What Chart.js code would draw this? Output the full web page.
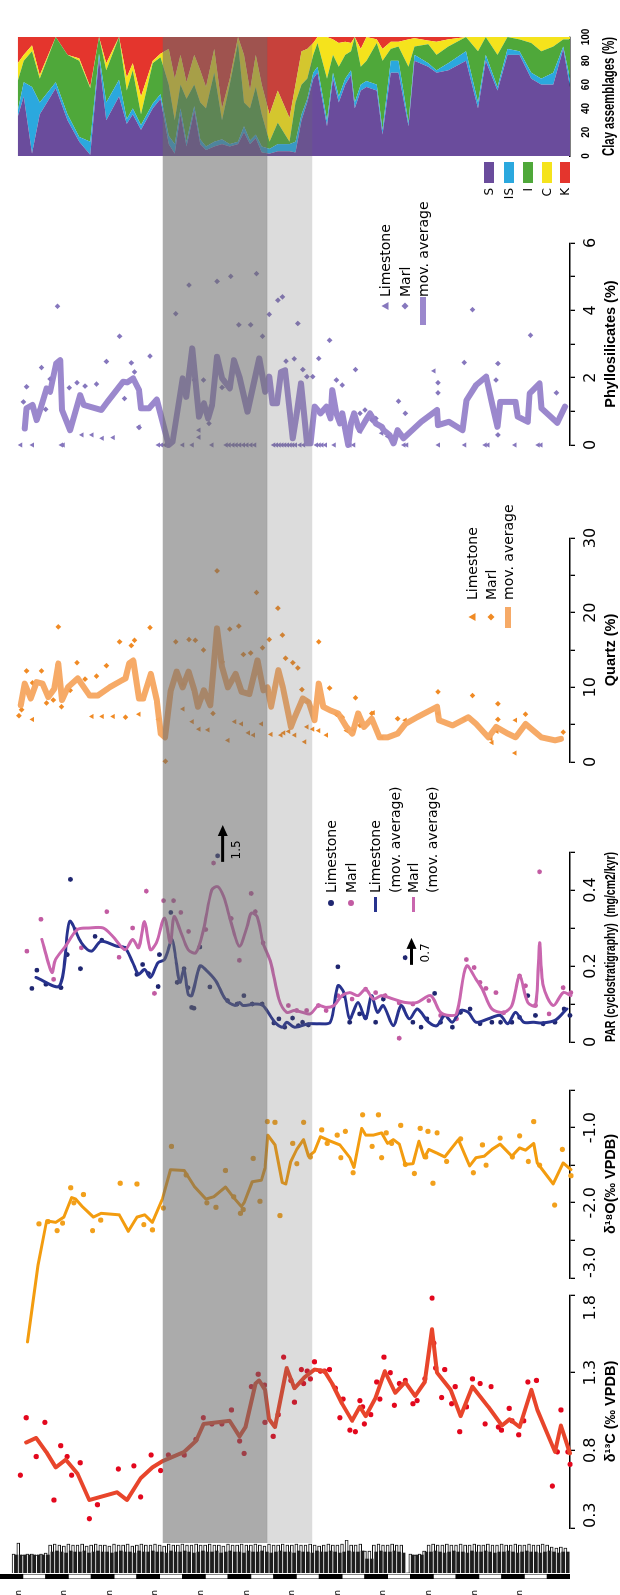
<!DOCTYPE html>
<html><head><meta charset="utf-8">
<script src="https://cdn.jsdelivr.net/npm/chart.js"></script>
<style>
html,body{margin:0;padding:0;width:620px;height:1595px;overflow:hidden;background:#fff;}
#stage{position:absolute;left:0;top:0;width:1595px;height:620px;transform-origin:0 0;transform:translateY(1595px) rotate(-90deg);}
#stage canvas{position:absolute;left:0;top:0;}
.lg{position:absolute;font-family:"DejaVu Sans";font-size:14px;color:#000;white-space:nowrap;line-height:16px;transform:translateY(-50%);}
.mk{position:absolute;}
</style></head><body><div id="stage"></div>
<script>
// ---------------- DATA (depth in m, values in axis units) ----------------
const DEPTH_MIN = -4, DEPTH_MAX = 121;
const depthLabelValues = [0,10,20,30,40,50,60,70,80,90,100,110];
const scaleBarBounds = [-4,1,6,11,16,21,26,31,36,41,46,51,56,61,66,71,76,81,86,91,96,101,106,111,116,121];
const bandDark = [31.75, 54.56];
const bandLight = [54.56, 64.4];

const d13cTicks = [0.3,0.8,1.3,1.8];
const d18oTicks = [-3,-2.5,-2,-1.5,-1,-0.5];
const d18oTickLabels = ['-3.0','','-2.0','','-1.0',''];
const parTicks = [0,0.1,0.2,0.3,0.4,0.5];
const parTickLabels = ['0','','0.2','','0.4',''];
const quartzTicks = [0,5,10,15,20,25,30];
const quartzTickLabels = ['0','','10','','20','','30'];
const phylloTicks = [0,1,2,3,4,5,6];
const phylloTickLabels = ['0','','2','','4','','6'];
const clayTicks = [0,20,40,60,80,100];

const d13cPoints = [[-0.1,0.64],[1.2,1.01],[3.4,0.76],[5.3,0.98],[7.3,0.48],[8.8,0.83],[10.2,0.76],[11.2,0.64],[13.1,0.72],[15.1,0.36],[16.9,0.45],[21.5,0.68],[23.4,0.27],[24.9,0.70],[26.4,0.50],[28.7,0.77],[30.8,0.67],[32.5,0.77],[36.0,0.77],[38.6,0.87],[40.2,1.01],[42.1,0.97],[44.3,0.97],[46.4,1.06],[48.2,0.86],[49.2,0.78],[50.8,1.21],[52.3,1.29],[53.7,1.22],[53.8,0.98],[55.6,0.89],[56.7,1.03],[57.9,1.40],[59.5,1.25],[60.3,1.11],[61.8,1.32],[62.3,1.23],[63.1,1.31],[63.8,1.26],[64.7,1.37],[66.0,1.31],[66.9,1.31],[68.0,1.32],[69.3,1.20],[70.3,1.01],[71.0,1.13],[72.5,0.93],[73.7,0.92],[74.7,1.12],[75.3,1.08],[75.7,0.97],[77.1,1.03],[78.4,1.24],[79.1,1.13],[80.0,1.40],[81.4,1.30],[82.3,1.09],[83.4,1.23],[84.7,1.25],[86.4,1.10],[87.3,1.12],[89.0,1.26],[90.6,1.78],[91.0,1.49],[91.4,1.33],[92.7,1.14],[93.4,1.32],[94.9,1.10],[95.7,1.21],[96.7,0.92],[98.2,1.08],[99.5,1.26],[101.2,1.23],[102.3,0.97],[103.6,1.21],[105.2,0.95],[105.9,0.93],[107.6,1.07],[108.2,0.99],[109.7,0.90],[110.8,0.99],[111.7,1.24],[113.6,1.25],[117.1,0.57],[118.2,0.79],[119.0,1.06],[120.5,0.79],[121.0,0.71]];
const d13cAvg = [[1.2,0.85],[3.4,0.88],[5.6,0.79],[7.7,0.69],[9.9,0.74],[12.5,0.65],[15.1,0.48],[21.2,0.53],[23.4,0.48],[26.4,0.62],[29.0,0.69],[31.2,0.73],[36.0,0.79],[38.6,0.86],[40.3,0.97],[46.0,0.99],[48.2,0.89],[49.5,0.95],[51.7,1.23],[52.5,1.25],[53.8,1.19],[54.7,1.0],[56.0,0.95],[58.6,1.33],[60.3,1.20],[62.5,1.27],[64.7,1.32],[66.9,1.31],[68.6,1.23],[70.8,1.10],[73.0,0.99],[74.7,1.08],[76.0,1.02],[78.2,1.14],[80.2,1.31],[82.5,1.17],[84.7,1.24],[86.9,1.15],[89.0,1.24],[90.6,1.58],[91.7,1.30],[94.7,1.19],[96.9,1.02],[99.5,1.21],[103.0,1.08],[106.0,0.96],[107.7,1.0],[109.9,0.95],[112.5,1.19],[113.8,1.06],[117.7,0.79],[119.0,0.96],[121.0,0.78]];

const d18oPoints = [[0.5,-3.99],[1.9,-4.53],[4.0,-2.28],[6.0,-2.25],[8.0,-2.37],[9.2,-2.27],[11.0,-1.80],[11.7,-2.0],[13.8,-1.89],[15.8,-2.37],[17.6,-2.23],[21.9,-1.74],[23.7,-3.04],[25.6,-1.75],[27.1,-2.29],[29.0,-2.36],[31.4,-2.07],[33.2,-1.25],[36.4,-1.63],[41.0,-2.0],[43.0,-2.06],[45.1,-1.57],[46.9,-1.92],[48.4,-2.14],[49.0,-2.09],[51.2,-1.41],[52.7,-1.98],[54.3,-0.92],[56.0,-0.93],[57.1,-2.17],[59.9,-1.21],[60.8,-1.48],[62.3,-0.93],[63.8,-1.39],[66.3,-1.03],[67.5,-1.21],[69.7,-1.10],[70.5,-1.40],[71.5,-1.05],[73.2,-1.60],[75.3,-0.83],[77.4,-1.25],[78.8,-0.83],[79.5,-1.40],[80.5,-1.07],[81.7,-1.21],[83.7,-0.97],[84.7,-1.49],[86.7,-1.61],[88.0,-1.01],[89.2,-1.39],[89.7,-1.05],[90.8,-1.74],[91.7,-1.07],[93.8,-1.45],[96.9,-1.15],[99.7,-1.60],[101.7,-1.23],[102.5,-1.50],[105.6,-1.14],[108.3,-1.39],[109.9,-1.11],[111.8,-1.45],[113.0,-0.92],[114.3,-1.50],[117.6,-2.03],[119.3,-1.29],[121.2,-1.64]];
const d18oAvg = [[1.5,-3.85],[3.8,-2.83],[5.7,-2.24],[7.7,-2.26],[9.5,-2.19],[11.2,-1.93],[12.1,-1.95],[13.4,-2.04],[16.0,-2.19],[17.7,-2.14],[21.7,-2.16],[23.7,-2.38],[25.6,-2.19],[27.3,-2.16],[29.0,-2.26],[31.2,-1.95],[33.0,-1.56],[36.0,-1.57],[38.2,-1.78],[40.8,-1.95],[42.5,-1.92],[45.1,-1.79],[46.9,-1.93],[48.6,-2.05],[49.2,-2.0],[51.0,-1.72],[53.0,-1.70],[53.8,-1.54],[54.4,-1.10],[56.0,-1.23],[57.6,-1.73],[58.4,-1.75],[59.5,-1.45],[60.8,-1.29],[62.3,-1.16],[63.4,-1.38],[64.7,-1.32],[66.0,-1.12],[68.2,-1.18],[70.3,-1.23],[72.5,-1.40],[73.4,-1.53],[75.1,-1.01],[76.0,-1.10],[77.7,-1.10],[79.5,-1.07],[80.8,-1.21],[82.1,-1.16],[83.4,-1.22],[84.7,-1.49],[86.4,-1.48],[87.7,-1.18],[88.9,-1.40],[89.9,-1.29],[91.7,-1.34],[93.4,-1.39],[96.4,-1.16],[98.9,-1.51],[100.3,-1.40],[102.1,-1.38],[103.8,-1.29],[105.6,-1.22],[108.2,-1.38],[109.9,-1.27],[111.2,-1.30],[113.0,-1.21],[113.8,-1.47],[117.3,-1.75],[119.5,-1.47],[121.2,-1.56]];

const parLimestone = [[2.5,0.141],[3.6,0.189],[5.6,0.152],[8.9,0.143],[10.3,0.230],[11.0,0.428],[13.2,0.193],[16.4,0.278],[17.9,0.268],[23.1,0.246],[25.6,0.178],[26.9,0.204],[28.2,0.180],[30.3,0.146],[30.6,0.230],[33.1,0.341],[34.5,0.157],[36.0,0.193],[36.9,0.143],[37.7,0.091],[38.2,0.089],[39.5,0.250],[41.7,0.145],[43.4,0.49],[45.6,0.109],[47.7,0.1],[49.2,0.122],[51.0,0.1],[53.2,0.1],[55.8,0.050],[56.9,0.061],[58.2,0.039],[59.9,0.063],[61.2,0.043],[62.1,0.052],[63.4,0.045],[69.9,0.198],[71.2,0.122],[72.5,0.052],[74.7,0.074],[76.0,0.065],[78.2,0.052],[79.9,0.113],[84.7,0.222],[86.4,0.052],[88.2,0.039],[89.5,0.061],[91.2,0.128],[92.5,0.052],[95.1,0.039],[96.9,0.078],[99.0,0.087],[101.2,0.048],[103.8,0.052],[105.7,0.052],[108.2,0.052],[109.9,0.065],[111.7,0.122],[113.4,0.070],[115.1,0.048],[117.7,0.052],[119.7,0.087],[121.0,0.070]];
const parMarl = [[1.4,0.239],[4.5,0.323],[7.3,0.165],[12.1,0.296],[13.4,0.248],[19.0,0.343],[21.7,0.223],[24.7,0.3],[27.7,0.397],[29.5,0.128],[31.5,0.372],[33.7,0.372],[35.3,0.341],[37.0,0.291],[40.8,0.296],[42.5,0.471],[46.4,0.325],[48.2,0.215],[50.8,0.391],[51.7,0.343],[53.4,0.261],[59.0,0.096],[60.8,0.083],[63.0,0.083],[65.6,0.096],[67.3,0.083],[69.9,0.122],[73.0,0.113],[76.0,0.139],[78.2,0.130],[80.3,0.122],[83.4,0.103],[83.4,0.01],[86.4,0.1],[89.9,0.109],[92.5,0.070],[96.0,0.061],[98.2,0.217],[99.9,0.196],[101.2,0.157],[102.5,0.141],[104.7,0.130],[106.4,0.077],[109.9,0.174],[111.2,0.148],[113.4,0.096],[114.3,0.448],[116.4,0.074],[119.5,0.143],[121.2,0.130]];
const parLimestoneAvg = [[3.4,0.170],[8.6,0.148],[10.8,0.317],[13.4,0.261],[15.6,0.239],[17.7,0.265],[21.2,0.252],[23.0,0.248],[24.7,0.209],[26.0,0.178],[27.3,0.191],[28.6,0.170],[30.3,0.209],[31.7,0.217],[33.4,0.270],[34.3,0.209],[35.1,0.157],[36.0,0.191],[36.9,0.126],[37.7,0.122],[39.5,0.200],[40.8,0.190],[43.0,0.161],[45.1,0.113],[47.3,0.096],[48.2,0.104],[49.0,0.096],[51.7,0.1],[53.4,0.096],[56.0,0.052],[57.7,0.039],[58.6,0.052],[60.3,0.039],[63.4,0.048],[65.6,0.048],[68.2,0.052],[69.9,0.148],[71.2,0.130],[72.5,0.061],[74.3,0.104],[76.0,0.061],[77.3,0.122],[78.6,0.078],[79.9,0.096],[82.1,0.043],[83.8,0.096],[85.6,0.061],[87.3,0.087],[88.2,0.078],[89.9,0.052],[91.7,0.043],[93.4,0.070],[95.1,0.052],[96.9,0.083],[98.6,0.078],[100.3,0.052],[103.0,0.061],[105.6,0.070],[107.3,0.048],[109.0,0.078],[110.8,0.052],[113.0,0.052],[114.7,0.050],[117.7,0.057],[120.3,0.087]];
const parMarlAvg = [[4.7,0.270],[6.9,0.183],[7.7,0.217],[9.9,0.252],[12.5,0.296],[15.1,0.3],[18.2,0.3],[20.3,0.278],[23.0,0.243],[24.7,0.270],[26.0,0.248],[27.3,0.317],[28.6,0.243],[29.9,0.261],[31.7,0.326],[33.0,0.261],[33.8,0.330],[35.1,0.296],[36.9,0.243],[38.6,0.235],[40.3,0.296],[42.1,0.40],[43.4,0.409],[44.7,0.383],[46.4,0.313],[48.2,0.252],[49.9,0.304],[50.8,0.339],[52.1,0.330],[53.4,0.261],[55.1,0.209],[56.9,0.113],[58.6,0.078],[60.3,0.083],[62.1,0.078],[63.8,0.074],[65.6,0.096],[67.3,0.091],[69.0,0.096],[70.8,0.122],[72.5,0.130],[74.3,0.122],[76.0,0.139],[77.7,0.113],[79.5,0.122],[82.1,0.113],[84.7,0.104],[87.3,0.104],[90.3,0.122],[92.5,0.078],[94.3,0.070],[96.0,0.074],[98.2,0.20],[100.3,0.165],[101.7,0.139],[103.8,0.087],[106.4,0.078],[108.2,0.096],[109.9,0.174],[111.7,0.104],[113.4,0.096],[114.3,0.261],[115.1,0.148],[117.3,0.096],[119.5,0.130],[121.2,0.122]];
const parArrowDepth = [44.5, 86.1];
const parArrowFrom = [0.474, 0.203];
const parArrowTo = [0.571, 0.274];
const parArrowLabel = ['1.5', '0.7'];

const quartzLimestone = [[2.5,5.7],[15.6,6.1],[17.9,6.1],[20.3,6.1],[26.0,6.4],[30.3,5.7],[35.7,7.1],[37.7,5.4],[39.2,4.4],[41.2,4.3],[45.6,2.9],[47.1,5.4],[48.6,5.1],[50.1,3.9],[51.2,3.6],[53.0,5.1],[55.1,3.7],[57.3,3.6],[57.9,3.9],[59.0,4.1],[60.3,3.6],[62.5,2.7],[63.0,4.7],[64.3,4.4],[65.6,4.2],[67.3,3.6],[71.7,4.2],[73.4,4.3],[77.6,6.6],[79.5,3.3],[84.7,5.6],[91.9,6.5],[97.7,5.8],[103.6,3.1],[103.8,2.6],[104.9,4.1],[108.9,1.2],[109.0,5.6]];
const quartzMarl = [[-0.5,6.2],[0.1,7.0],[1.2,12.2],[2.5,10.6],[4.5,12.2],[5.6,7.9],[7.1,8.3],[8.2,18.1],[8.9,7.4],[10.8,9.6],[12.3,13.3],[14.1,11.1],[16.6,11.5],[18.8,12.9],[21.7,16.1],[23.0,6.0],[24.3,15.6],[25.0,16.3],[28.4,18.0],[31.8,0.1],[34.1,16.1],[35.7,10.4],[37.0,16.4],[38.4,16.3],[40.2,15.0],[42.3,6.5],[43.2,25.6],[44.3,13.4],[46.0,17.8],[48.0,18.2],[49.0,14.4],[50.6,14.6],[51.9,22.7],[53.2,15.3],[54.7,16.4],[56.6,20.6],[57.6,17.0],[58.3,13.9],[59.9,13.3],[61.0,12.6],[61.9,9.7],[63.2,8.1],[65.6,16.1],[68.0,9.9],[69.5,6.4],[70.8,6.0],[73.7,8.6],[74.7,4.9],[77.3,6.5],[83.0,5.8],[91.9,9.4],[99.5,8.9],[105.1,7.8],[105.1,5.7],[111.2,6.4],[119.5,4.0]];
const quartzAvg = [[-0.1,7.6],[0.8,10.5],[2.1,8.5],[3.4,10.7],[4.7,10.5],[6.0,8.7],[7.3,9.8],[8.2,13.2],[9.0,8.3],[10.3,10.0],[12.5,11.2],[15.1,8.9],[16.9,8.9],[19.5,10.0],[22.1,10.9],[23.0,11.2],[23.8,13.2],[24.7,13.6],[26.0,8.5],[26.9,8.5],[28.6,11.8],[29.9,8.3],[30.8,3.8],[31.7,3.3],[33.0,9.6],[34.3,12.1],[35.6,10.0],[36.9,12.1],[38.2,9.6],[39.0,7.4],[40.3,9.6],[41.7,7.6],[43.2,17.9],[44.3,12.7],[45.6,10.0],[47.3,11.8],[48.6,9.4],[50.3,9.1],[52.1,13.6],[53.4,9.6],[54.3,10.0],[55.1,7.4],[56.7,12.3],[57.7,10.0],[59.5,4.7],[60.3,6.0],[62.1,8.5],[63.4,8.0],[64.7,5.6],[65.6,10.5],[66.6,7.4],[68.2,6.9],[69.9,6.5],[71.7,4.7],[73.0,3.8],[74.3,6.5],[75.6,4.7],[77.3,5.8],[79.0,3.3],[80.8,3.3],[83.0,3.8],[84.7,5.1],[87.3,6.0],[91.7,7.4],[92.1,5.6],[95.1,4.9],[98.6,6.0],[100.3,5.1],[103.0,3.3],[104.7,4.7],[107.3,3.8],[109.0,3.3],[111.2,5.1],[114.7,3.3],[117.7,2.9],[119.0,3.1]];

const phylloLimestone = [[-0.1,0],[2.5,0],[8.9,0],[9.3,0],[13.4,0.30],[15.6,0.30],[17.9,0.20],[20.3,0.22],[26.0,0.54],[30.3,0],[31.0,0],[31.7,0],[32.5,0],[35.6,0],[37.7,0],[39.2,0.44],[39.2,0.23],[42.1,0],[45.2,0],[45.9,0],[46.7,0],[47.4,0],[48.2,0],[49.0,0],[49.8,0],[50.7,0],[51.5,0],[52.3,6.79],[55.7,0],[56.3,0],[56.9,0],[57.5,0],[58.1,0],[58.7,0],[59.3,0],[59.9,0],[60.5,0],[61.5,0],[62.3,0],[65.1,0],[65.7,0],[66.3,0],[67.1,0],[69.0,0],[72.5,0],[73.3,0],[74.7,0.40],[79.5,0.35],[80.8,0.25],[84.4,0],[85.0,0],[91.0,2.2],[92.0,0],[97.8,0],[102.3,0],[102.9,0],[108.9,0],[114.0,0],[114.6,0]];
const phylloMarl = [[0.5,1.28],[1.2,1.73],[4.5,2.30],[5.4,1.06],[6.4,1.96],[8.0,4.12],[10.6,1.70],[12.3,1.85],[14.1,1.75],[16.6,1.81],[18.8,2.48],[21.7,3.23],[22.8,1.38],[24.3,2.44],[25.0,2.17],[26.0,0.52],[28.4,2.64],[34.1,3.90],[37.0,4.75],[38.2,1.93],[40.2,1.93],[41.4,0.64],[43.2,4.86],[44.3,1.71],[46.2,5.01],[48.0,3.57],[48.2,6.79],[50.6,3.57],[51.9,5.09],[53.2,3.23],[54.7,3.88],[56.6,4.30],[57.6,4.40],[58.4,2.49],[60.2,2.56],[61.0,3.61],[62.1,2.24],[63.0,2.03],[64.3,2.03],[65.6,2.57],[68.0,3.11],[69.5,1.93],[70.8,1.78],[73.7,2.24],[74.7,0.94],[75.8,1.04],[77.3,0.74],[78.2,0.79],[83.2,1.30],[84.7,0.94],[91.9,1.85],[91.9,1.55],[97.7,2.45],[99.5,4.02],[104.7,1.93],[105.1,2.42],[105.1,0.30],[112.3,3.26],[118.0,1.55]];
const phylloAvg = [[0.8,0.49],[1.2,1.09],[2.5,1.19],[3.4,0.74],[4.3,1.09],[5.6,1.68],[6.4,1.58],[7.7,2.42],[8.6,2.52],[9.0,1.04],[10.8,0.44],[13.0,1.48],[13.8,1.19],[17.7,1.04],[19.0,1.28],[22.5,1.88],[23.4,1.86],[24.7,1.98],[26.0,1.63],[26.4,1.09],[28.2,1.09],[29.9,1.35],[32.5,0.0],[33.4,0.1],[35.6,1.98],[36.4,1.43],[37.7,2.87],[39.2,0.84],[40.3,1.24],[41.2,0.79],[42.1,1.19],[43.2,2.62],[44.3,1.98],[46.0,1.68],[46.9,2.52],[48.2,1.98],[49.9,0.99],[52.5,2.57],[53.8,1.58],[54.7,2.03],[55.4,1.24],[56.4,1.24],[57.3,2.17],[58.2,2.22],[59.9,0.2],[60.8,0.99],[61.7,1.83],[63.0,0.05],[63.8,0.05],[64.7,1.14],[66.0,0.94],[67.3,1.14],[68.2,0.79],[68.6,1.63],[69.5,0.94],[70.3,0.64],[70.8,0.94],[72.1,0.0],[72.7,0.64],[73.4,0.94],[74.3,0.54],[74.7,0.44],[76.0,0.74],[76.9,0.94],[78.2,0.64],[79.5,0.54],[79.9,0.44],[81.2,0.30],[82.1,0.05],[83.0,0.44],[84.3,0.2],[88.2,0.69],[91.7,1.04],[91.9,0.59],[94.3,0.69],[97.3,0.44],[98.2,1.33],[100.3,1.78],[102.5,2.03],[103.8,1.24],[105.0,0.54],[105.6,1.28],[109.0,1.28],[109.5,0.84],[111.7,0.69],[112.1,1.53],[114.3,1.83],[114.7,1.09],[118.2,0.66],[119.9,1.14]];

const clayDepth = [-0.1,1.2,3.0,4.7,8.2,10.8,13.4,15.8,17.7,19.3,22.1,23.8,25.1,26.9,29.5,31.2,33.0,34.3,35.6,36.9,38.6,39.9,41.2,43.0,44.7,46.4,48.2,49.5,50.8,52.1,53.4,55.1,56.9,59.5,60.8,62.1,63.4,64.7,65.6,67.7,69.0,70.3,71.7,73.0,73.8,75.1,76.4,78.6,79.9,81.7,83.4,85.6,86.9,89.9,91.7,94.3,98.2,100.8,102.5,105.1,107.3,109.9,112.5,114.7,117.3,119.5,121.0];
const claySmectite = [33,50,2,35,57,30,12,1,82,30,50,27,35,22,40,48,10,2,35,8,38,10,5,8,10,8,10,20,10,15,3,2,4,4,3,30,45,65,70,25,65,45,60,68,40,55,58,55,18,70,70,25,80,75,70,72,80,40,80,55,85,85,65,60,60,90,58];
const clayIS = [5,12,56,10,5,5,4,11,4,15,14,4,5,4,4,4,7,8,5,4,4,4,3,4,4,2,2,5,3,3,5,4,6,6,9,5,3,5,5,5,5,5,5,4,5,5,5,5,4,10,10,3,5,3,2,6,8,5,5,3,5,3,5,5,10,2,7];
const clayIllite = [25,18,30,20,38,50,64,45,14,27,36,24,32,9,34,31,43,20,20,36,18,31,32,58,16,50,83,20,27,40,27,6,18,2,33,25,17,15,20,35,15,25,20,16,55,15,17,35,58,10,12,47,7,16,13,14,12,43,15,27,10,10,25,23,22,6,33];
const clayChlorite = [15,5,5,3,0,0,2,1,0,6,0,11,6,15,2,3,30,35,25,14,25,27,18,20,10,5,5,40,15,27,25,23,27,20,15,28,25,10,5,35,13,20,11,7,0,15,20,3,10,6,4,23,7,3,11,6,0,12,0,15,0,2,5,12,8,2,2];
const clayKaolinite = [22,15,7,32,0,15,18,42,0,22,0,34,22,50,20,14,10,35,15,38,15,28,42,10,60,35,0,15,45,15,40,65,45,68,40,12,10,5,0,0,2,5,4,5,0,10,0,2,10,4,4,2,1,3,4,2,0,0,0,0,0,0,0,0,0,0,0];

const LITHO_TOP = -1;
const lithoLimestone = [1.9,3.0,1.8,1.9,1.9,1.8,1.9,2.0,
 2.8,2.9,2.8,2.7,2.9,2.8,2.8,2.9,2.7,2.8,2.9,2.8,2.8,2.7,
 2.9,2.8,2.8,2.9,2.7,2.8,2.9,2.8,2.8,2.9,2.8,2.7,2.9,2.8,2.8,2.9,2.8,2.8,2.9,2.8,
 2.8,2.9,2.8,2.8,2.7,2.9,2.8,2.8,2.9,2.8,2.8,2.9,2.8,2.7,2.9,2.8,2.8,2.9,2.8,2.8,
 2.9,2.8,2.8,2.9,2.8,2.7,2.8,2.9,2.8,2.8,2.9,3.3,2.8,2.8,2.9,2.2,2.2,2.8,2.9,2.8,
 2.8,2.9,2.8,2.8,0,1.9,1.8,1.9,2.2,2.8,2.9,2.8,2.8,2.9,2.8,2.8,2.9,2.8,2.8,2.9,
 2.8,2.8,2.9,2.8,2.8,2.9,2.8,2.8,2.9,2.8,2.8,2.9,2.8,2.8,2.9,2.8,2.6,2.5,2.6,2.5];
const lithoMarl = [1.8,1.8,1.8,1.8,1.8,1.8,1.8,1.8,
 2.1,2.2,2.1,2.0,2.2,2.1,2.1,2.2,2.0,2.1,2.2,2.1,2.1,2.0,
 2.1,2.2,2.1,2.1,2.0,2.2,2.1,2.1,2.2,2.1,2.1,2.0,2.2,2.1,2.1,2.2,2.1,2.0,2.1,2.2,
 2.1,2.1,2.2,2.0,2.1,2.2,2.1,2.1,2.0,2.2,2.1,2.1,2.2,2.1,2.0,2.1,2.2,2.1,2.1,2.0,
 2.2,2.1,2.1,2.0,2.2,2.1,2.1,2.2,2.1,2.0,2.1,2.2,2.1,2.1,2.2,1.4,1.4,2.1,2.2,2.1,
 2.1,2.2,2.1,2.0,0,1.8,1.8,1.8,2.1,2.1,2.2,2.1,2.0,2.1,2.2,2.1,2.1,2.0,2.2,2.1,
 2.1,2.2,2.1,2.0,2.1,2.1,2.2,2.1,2.0,2.1,2.2,2.1,2.1,2.0,2.1,2.2,2.1,2.0,2.1,2.1];

// ---------------- RENDERING ----------------
const W = 1595, H = 620, AXIS_H = 50;
const stage = document.getElementById('stage');
Chart.defaults.font.family = '"DejaVu Sans"';

function addCanvas(id){
  const c = document.createElement('canvas');
  c.id = id; c.width = W; c.height = H;
  c.style.width = W + 'px'; c.style.height = H + 'px';
  stage.appendChild(c);
  return c;
}
const pts = arr => arr.map(p => ({x: p[1], y: p[0]}));
const depthAxis = () => ({type:'linear', min:DEPTH_MIN, max:DEPTH_MAX, reverse:true, display:false, offset:false});
const base = {responsive:false, animation:false, devicePixelRatio:1,
  plugins:{legend:{display:false}, tooltip:{enabled:false}}};

function panel(id, o){
  return new Chart(addCanvas(id), {
    type:'line',
    data:{datasets:o.datasets},
    options:Object.assign({}, base, {
      indexAxis:'y',
      layout:{padding:{left:o.left, right:o.right, top:0, bottom:0}},
      elements:{point:{borderWidth:0, hoverRadius:0}, line:{borderCapStyle:'round', borderJoinStyle:'round'}},
      scales:{
        y: depthAxis(),
        x:{type:'linear', position:'bottom', min:o.min, max:o.max, stacked:!!o.stacked,
          afterBuildTicks: s => { s.ticks = o.ticks.map(v => ({value:v})); },
          afterFit: s => { s.height = AXIS_H; s.paddingLeft = 0; s.paddingRight = 0; },
          grid:{display:o.tickLen > 0, drawOnChartArea:false, drawTicks:true, tickLength:o.tickLen, color:'#000', lineWidth:1.3},
          border:{display:true, color:'#000', width:1.5},
          ticks:{autoSkip:false, maxRotation:0, minRotation:0, padding:o.pad, color:'#000', font:o.tickFont,
                 align:o.align || 'center', callback:(v, i) => o.labels(v, i)},
          title:{display:true, text:o.title, color:'#000', font:o.titleFont, padding:0}
        }
      }
    })
  });
}
const tickFont = {family:'"DejaVu Sans"', size:16};
const titleFont = {family:'"Liberation Sans"', size:14.5, weight:'bold'};
const dots = (data, color, r, style) => ({data:pts(data), showLine:false, pointRadius:r, pointBackgroundColor:color,
  pointStyle:style || 'circle', clip:false});
const avg = (data, color, w, tension) => ({data:pts(data), borderColor:color, borderWidth:w, pointRadius:0, tension:tension || 0, clip:false});

// lithology log
new Chart(addCanvas('litho'), {
  type:'bar',
  data:{datasets:[
    {data:lithoMarl.map((h, i) => ({x:h, y:LITHO_TOP + i + 0.5})), backgroundColor:'#1e1e1e', borderWidth:0, barThickness:3, grouped:false},
    {data:lithoLimestone.map((h, i) => ({x:h, y:LITHO_TOP + i})), backgroundColor:'#fff', borderColor:'#111', borderWidth:1, barThickness:3, grouped:false}
  ]},
  options:Object.assign({}, base, {indexAxis:'y',
    layout:{padding:{left:22, right:W - 55, top:0, bottom:AXIS_H}},
    scales:{y:depthAxis(), x:{type:'linear', min:0, max:3.3, display:false}}})
});

// depth scale bar
const segCenters = scaleBarBounds.slice(1).map((b, i) => (b + scaleBarBounds[i]) / 2);
new Chart(addCanvas('scalebar'), {
  type:'bar',
  data:{datasets:[{data:segCenters.map(c => ({x:1, y:c})),
    backgroundColor:ctx => ctx.dataIndex % 2 ? '#fff' : '#000', borderColor:'#000', borderWidth:0.8, borderSkipped:false,
    barPercentage:1, categoryPercentage:1}]},
  options:Object.assign({}, base, {indexAxis:'y',
    layout:{padding:{left:0, right:W - 21, top:0, bottom:AXIS_H}},
    scales:{
      y:{type:'linear', min:DEPTH_MIN, max:DEPTH_MAX, reverse:true, position:'left', offset:false,
         afterBuildTicks: s => { s.ticks = depthLabelValues.map(v => ({value:v})); },
         afterFit: s => { s.width = 16; s.paddingTop = 0; s.paddingBottom = 0; },
         grid:{display:false, offset:false}, border:{display:false},
         ticks:{autoSkip:false, padding:3, color:'#000', font:{size:9}, callback:v => v + ' m'}},
      x:{type:'linear', min:0, max:1, display:false}}})
});

// δ13C
panel('d13c', {left:67, right:W - 300, min:0.3, max:1.8, ticks:d13cTicks, labels:v => v.toFixed(1),
  tickLen:5, pad:6, align:'inner', tickFont, titleFont, title:'δ¹³C (‰ VPDB)',
  datasets:[avg(d13cAvg, '#e8452b', 4), dots(d13cPoints, '#e3071d', 2.6)]});
// δ18O
panel('d18o', {left:317, right:W - 505, min:-3, max:-0.5, ticks:d18oTicks, labels:(v, i) => d18oTickLabels[i],
  tickLen:5, pad:6, align:'inner', tickFont, titleFont, title:'δ¹⁸O(‰ VPDB)',
  datasets:[avg(d18oAvg, '#f39c0f', 3), dots(d18oPoints, '#f2a01c', 2.6)]});
// PAR
const parChart = panel('par', {left:553, right:W - 743, min:0, max:0.5, ticks:parTicks, labels:(v, i) => parTickLabels[i],
  tickLen:5, pad:6, tickFont, titleFont, title:'PAR (cyclostratigraphy)  (mg/cm2/kyr)',
  datasets:[avg(parMarlAvg, '#c966ae', 3, 0.3), avg(parLimestoneAvg, '#28338e', 3, 0.3),
            dots(parMarl, '#c25ba2', 2.4), dots(parLimestone, '#1f2670', 2.4)]});
// Quartz
panel('quartz', {left:833, right:W - 1057, min:0, max:30, ticks:quartzTicks, labels:(v, i) => quartzTickLabels[i],
  tickLen:5, pad:6, tickFont, titleFont, title:'Quartz (%)',
  datasets:[avg(quartzAvg, 'rgba(245,165,95,0.95)', 6), dots(quartzLimestone, '#f08a24', 3, 'triangle'),
            dots(quartzMarl, '#f08a24', 2.8, 'rectRot')]});
// Phyllosilicates
panel('phyllo', {left:1150, right:W - 1352, min:0, max:6, ticks:phylloTicks, labels:(v, i) => phylloTickLabels[i],
  tickLen:5, pad:6, tickFont, titleFont, title:'Phyllosilicates (%)',
  datasets:[avg(phylloAvg, 'rgba(150,130,202,0.95)', 6), dots(phylloLimestone, '#8677bd', 3, 'triangle'),
            dots(phylloMarl, '#8677bd', 2.8, 'rectRot')]});
// Clay assemblages
const clayColors = ['#6a4c9c', '#2ba8de', '#4fa83a', '#f5e31c', '#e4352d'];
const claySeries = [claySmectite, clayIS, clayIllite, clayChlorite, clayKaolinite];
panel('clay', {left:1439, right:W - 1558, min:0, max:100, stacked:true, ticks:clayTicks, labels:v => String(v),
  tickLen:0, pad:10, tickFont:{family:'"Liberation Sans"', size:10, weight:'bold'},
  titleFont:{family:'"Liberation Sans"', size:17, weight:'bold'}, title:'Clay assemblages (%)',
  datasets:claySeries.map((s, k) => ({data:s.map((v, i) => ({x:v, y:clayDepth[i]})), backgroundColor:clayColors[k],
    borderWidth:0, pointRadius:0, fill:k === 0 ? 'origin' : '-1', tension:0}))});

// shaded intervals + PAR off-scale arrows
const arrowPlugin = {id:'parArrows', afterDatasetsDraw(chart){
  const xs = parChart.scales.x, ys = parChart.scales.y, ctx = chart.ctx;
  parArrowDepth.forEach((d, i) => {
    const y = ys.getPixelForValue(d), x0 = xs.getPixelForValue(parArrowFrom[i]), x1 = xs.getPixelForValue(parArrowTo[i]);
    ctx.save();
    ctx.strokeStyle = '#000'; ctx.lineWidth = 3;
    ctx.beginPath(); ctx.moveTo(x0, y); ctx.lineTo(x1 - 8, y); ctx.stroke();
    ctx.fillStyle = '#000';
    ctx.beginPath(); ctx.moveTo(x1, y); ctx.lineTo(x1 - 11, y - 5); ctx.lineTo(x1 - 11, y + 5); ctx.closePath(); ctx.fill();
    ctx.font = '12px "DejaVu Sans"'; ctx.textAlign = 'center'; ctx.textBaseline = 'middle';
    ctx.fillText(parArrowLabel[i], x0 + 12, y + 14);
    ctx.restore();
  });
}};
new Chart(addCanvas('bands'), {
  type:'bar',
  data:{labels:['interval'], datasets:[
    {data:[bandDark], backgroundColor:'rgba(105,105,105,0.56)', borderWidth:0, grouped:false, barPercentage:1, categoryPercentage:1},
    {data:[bandLight], backgroundColor:'rgba(105,105,105,0.23)', borderWidth:0, grouped:false, barPercentage:1, categoryPercentage:1}]},
  options:Object.assign({}, base, {
    layout:{padding:{left:52, right:37, top:0, bottom:AXIS_H}},
    scales:{x:{type:'category', display:false}, y:depthAxis()}}),
  plugins:[arrowPlugin]
});

// ---------------- LEGENDS (HTML text) ----------------
function text(x, y, s, extra){
  const d = document.createElement('div'); d.className = 'lg'; d.textContent = s;
  d.style.left = x + 'px'; d.style.top = y + 'px';
  if (extra) Object.assign(d.style, extra);
  stage.appendChild(d);
}
function marker(x, y, kind, color, w, h){
  const ns = 'http://www.w3.org/2000/svg';
  const svg = document.createElementNS(ns, 'svg');
  const sw = w || 8, sh = h || 8;
  svg.setAttribute('width', sw); svg.setAttribute('height', sh);
  svg.setAttribute('class', 'mk');
  svg.style.left = (x - sw / 2) + 'px'; svg.style.top = (y - sh / 2) + 'px';
  let el;
  if (kind === 'dot') { el = document.createElementNS(ns, 'circle'); el.setAttribute('cx', sw/2); el.setAttribute('cy', sh/2); el.setAttribute('r', 3); }
  else if (kind === 'tri') { el = document.createElementNS(ns, 'polygon'); el.setAttribute('points', '4,0.5 8,7.5 0,7.5'); }
  else if (kind === 'dia') { el = document.createElementNS(ns, 'polygon'); el.setAttribute('points', '4,0.5 7.5,4 4,7.5 0.5,4'); }
  else { el = document.createElementNS(ns, 'rect'); el.setAttribute('x', 0); el.setAttribute('y', 0); el.setAttribute('width', sw); el.setAttribute('height', sh); }
  el.setAttribute('fill', color);
  svg.appendChild(el); stage.appendChild(svg);
}
// PAR legend
marker(692, 331, 'dot', '#1f2670'); text(702, 331, 'Limestone');
marker(692, 351, 'dot', '#c25ba2'); text(702, 351, 'Marl');
marker(690.5, 375, 'line', '#28338e', 15, 3); text(702, 375, 'Limestone'); text(702, 395, '(mov. average)');
marker(690.5, 413, 'line', '#c966ae', 15, 3); text(702, 413, 'Marl'); text(702, 432, '(mov. average)');
// Quartz legend
marker(978, 472, 'tri', '#f08a24'); text(995, 472, 'Limestone');
marker(978, 491, 'dia', '#f08a24'); text(995, 491, 'Marl');
marker(977.5, 508, 'line', 'rgba(245,165,95,0.95)', 21, 6); text(995, 508, 'mov. average');
// Phyllosilicates legend
marker(1289, 385, 'tri', '#8677bd'); text(1298, 385, 'Limestone');
marker(1289, 405, 'dia', '#8677bd'); text(1298, 405, 'Marl');
marker(1284, 423, 'line', 'rgba(150,130,202,0.95)', 28, 6); text(1298, 423, 'mov. average');
// Clay legend
const clayNames = ['S', 'IS', 'I', 'C', 'K'];
const clayLegendY = [489, 509, 528, 547, 565];
clayNames.forEach((n, k) => {
  marker(1422.5, clayLegendY[k], 'sq', clayColors[k], 21, 10);
  text(1407, clayLegendY[k], n, {transform:'translate(-100%,-50%)', fontSize:'12px'});
});
</script></body></html>
